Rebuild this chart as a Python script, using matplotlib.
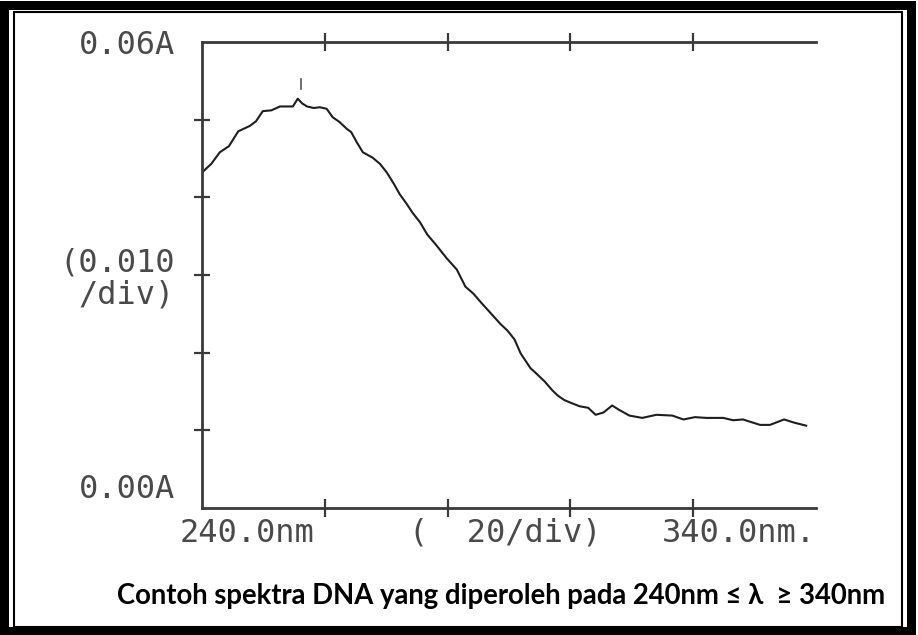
import matplotlib
matplotlib.use("Agg")
import matplotlib.pyplot as plt
from matplotlib.patches import Rectangle
from matplotlib import font_manager

# ---- data ----
wavelength_nm = [240.0, 241.5, 242.9, 244.4, 245.9, 247.8, 248.8, 249.9, 251.3, 252.7,
                 254.8, 255.6, 256.3, 257.1, 258.2, 259.2, 260.3, 261.3, 262.4, 263.6,
                 264.3, 265.2, 266.2, 267.8, 269.0, 270.1, 271.2, 272.2, 273.3, 274.3,
                 275.5, 276.7, 278.2, 279.8, 281.5, 282.9, 284.2, 285.4, 287.0, 288.6,
                 289.8, 290.9, 291.9, 293.5, 294.6, 295.8, 297.0, 297.9, 299.0, 300.2,
                 301.5, 302.9, 304.1, 305.4, 306.8, 307.8, 309.6, 311.7, 314.0, 316.6,
                 318.4, 320.3, 322.1, 324.9, 326.5, 328.1, 330.9, 332.5, 334.8, 336.4,
                 338.4]
absorbance = [0.0432, 0.0443, 0.0458, 0.0466, 0.0485, 0.0492, 0.0498, 0.0511, 0.0512, 0.0517,
              0.0517, 0.0527, 0.0521, 0.0517, 0.0515, 0.0516, 0.0514, 0.0503, 0.0497, 0.0488,
              0.0484, 0.0471, 0.0458, 0.0451, 0.0443, 0.0432, 0.0418, 0.0404, 0.0392, 0.0380,
              0.0368, 0.0352, 0.0338, 0.0322, 0.0307, 0.0285, 0.0276, 0.0265, 0.0251, 0.0237,
              0.0228, 0.0217, 0.0199, 0.0180, 0.0172, 0.0163, 0.0152, 0.0145, 0.0139, 0.0135,
              0.0131, 0.0129, 0.0120, 0.0123, 0.0132, 0.0127, 0.0119, 0.0116, 0.0120, 0.0119,
              0.0114, 0.0117, 0.0116, 0.0116, 0.0113, 0.0114, 0.0107, 0.0107, 0.0114, 0.0110,
              0.0106]
peak_marker_x = [256.1, 256.1]
peak_marker_y = [0.0540, 0.0552]

x_ticks = [260, 280, 300, 320]
y_ticks = [0.01, 0.02, 0.03, 0.04, 0.05]
y_top_label = "0.06A"
y_bottom_label = "0.00A"
y_div_label = "(0.010\n/div)"
x_left_label = "240.0nm"
x_mid_label = "(  20/div)"
x_right_label = "340.0nm."
caption = "Contoh spektra DNA yang diperoleh pada 240nm \u2264 \u03bb  \u2265 340nm"

W, H = 918, 635
fig = plt.figure(figsize=(W / 100, H / 100), dpi=100)
fig.patch.set_facecolor("white")

def fx(px):
    return px / W

def fy(py):
    return 1 - py / H

# frame: thick outer band + thin inner line
fig.patches.append(Rectangle((fx(4), fy(631)), fx(911 - 4), (631 - 5) / H,
                             transform=fig.transFigure, fill=False, lw=6.5,
                             edgecolor="black"))
fig.patches.append(Rectangle((fx(14), fy(627)), fx(902 - 14), (627 - 12) / H,
                             transform=fig.transFigure, fill=False, lw=1.5,
                             edgecolor="black"))

ax_l, ax_r, ax_t, ax_b = 202, 816, 42, 508
ax = fig.add_axes([fx(ax_l), fy(ax_b), fx(ax_r - ax_l), (ax_b - ax_t) / H])
ax.set_xlim(240, 340)
ax.set_ylim(0, 0.06)

axis_col = "#3a3a3a"
for s in ["left", "top", "bottom"]:
    ax.spines[s].set_color(axis_col)
    ax.spines[s].set_linewidth(2.0)
ax.spines["right"].set_visible(False)

ax.set_xticks(x_ticks)
ax.set_yticks(y_ticks)
ax.tick_params(axis="x", which="both", direction="inout", length=13, width=1.6,
               color=axis_col, top=True, bottom=True, labelbottom=False, labeltop=False)
ax.tick_params(axis="y", which="both", direction="inout", length=11, width=1.6,
               color=axis_col, left=True, right=False, labelleft=False)

ax.plot(wavelength_nm, absorbance, color="#1e1e1e", lw=1.5)
ax.plot(peak_marker_x, peak_marker_y, color="#555555", lw=1.2)

names = {f.name for f in font_manager.fontManager.ttflist}
mono = "DejaVu Sans Mono"
txt_col = "#4a4a4a"
tkw = dict(family=mono, fontsize=23, color=txt_col)

fig.text(fx(175), fy(45), y_top_label, ha="right", va="center", **tkw)
fig.text(fx(175), fy(279), y_div_label, ha="right", va="center",
         multialignment="right", linespacing=1.05, **tkw)
fig.text(fx(175), fy(490), y_bottom_label, ha="right", va="center", **tkw)
fig.text(fx(180), fy(533), x_left_label, ha="left", va="center", **tkw)
fig.text(fx(505), fy(533), x_mid_label, ha="center", va="center", **tkw)
fig.text(fx(816), fy(533), x_right_label, ha="right", va="center", **tkw)

cap_font = "Lato" if "Lato" in names else "DejaVu Sans"
fig.text(fx(501), fy(596), caption, ha="center", va="center",
         family=[cap_font, "DejaVu Sans"], fontweight="bold", fontsize=19.8, color="black")

fig.savefig("out.png", dpi=100, facecolor="white")
